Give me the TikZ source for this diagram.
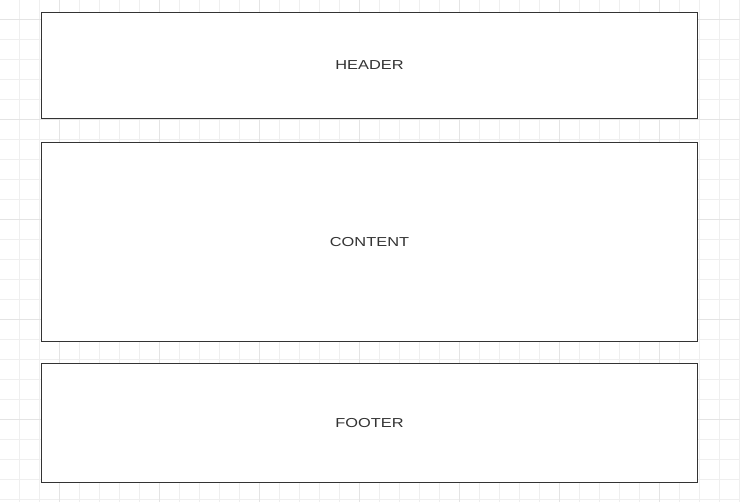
\documentclass[tikz,border=0pt]{standalone}
\usepackage{fontspec}
\setmainfont{Liberation Sans}
\usepackage{tikz}

\definecolor{gridminor}{HTML}{EFEFEF}
\definecolor{gridmajor}{HTML}{E4E4E4}
\definecolor{boxline}{HTML}{333333}

\tikzset{
	block/.style={draw=boxline, line width=1pt, fill=white, inner sep=0pt,
		minimum width=656pt, text=boxline, font=\fontsize{13}{15}\selectfont},
}

\begin{document}
\begin{tikzpicture}[x=1pt, y=-1pt]
	\useasboundingbox (0,0) rectangle (740,502);
	\fill[white] (0,0) rectangle (740,502);
	% background grid
	\foreach \gx in {19.5,39.5,...,739.5}
		\draw[gridminor, line width=0.8pt] (\gx,0) -- (\gx,502);
	\foreach \gy in {19.5,39.5,...,499.5}
		\draw[gridminor, line width=0.8pt] (0,\gy) -- (740,\gy);
	\foreach \gx in {59.5,159.5,...,659.5}
		\draw[gridmajor, line width=0.8pt] (\gx,0) -- (\gx,502);
	\foreach \gy in {19.5,119.5,...,419.5}
		\draw[gridmajor, line width=0.8pt] (0,\gy) -- (740,\gy);
	% page blocks
	\node[block, minimum height=106pt] (header) at (369.5,65.5) {\scalebox{1.26}[1]{HEADER}};
	\node[block, minimum height=199pt] (content) at (369.5,242) {\scalebox{1.26}[1]{CONTENT}};
	\node[block, minimum height=119pt] (footer) at (369.5,423) {\scalebox{1.26}[1]{FOOTER}};
\end{tikzpicture}
\end{document}
